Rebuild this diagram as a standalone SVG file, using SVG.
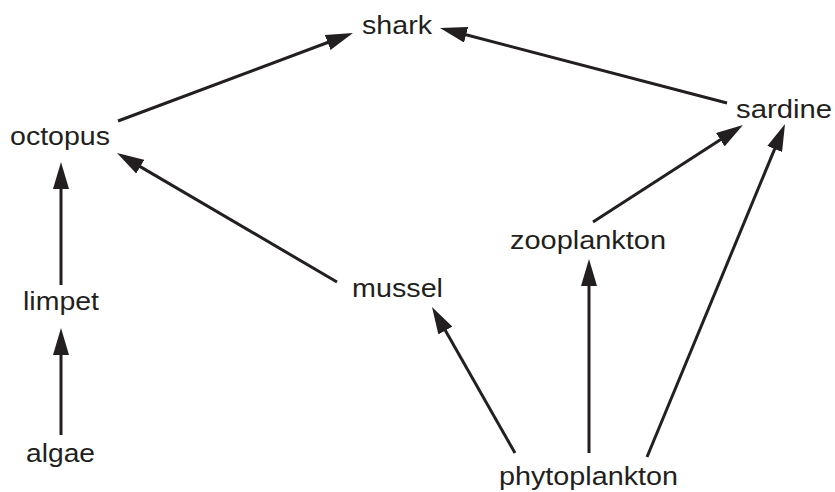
<svg xmlns="http://www.w3.org/2000/svg" width="835" height="492" viewBox="0 0 835 492">
<style>
.lbl{font-family:"Liberation Sans",Arial,Helvetica,sans-serif;font-size:26px;fill:#231f20}
.con line{stroke:#231f20;stroke-width:3;fill:none;marker-end:url(#ah)}
</style>
<defs>
<marker id="ah" viewBox="0 0 27 16" refX="12" refY="8" markerWidth="27" markerHeight="16" markerUnits="userSpaceOnUse" orient="auto">
<path d="M0,0 L27,8 L0,16 Z" fill="#231f20"/>
</marker>
</defs>
<rect width="835" height="492" fill="#fff"/>
<g id="connectors" class="con">
<line x1="61" y1="435" x2="61" y2="343"/>
<line x1="61" y1="285" x2="61" y2="177"/>
<line x1="118" y1="121" x2="338.96" y2="38.26"/>
<line x1="337" y1="282" x2="129.94" y2="160.59"/>
<line x1="727" y1="103" x2="454.51" y2="31.79"/>
<line x1="593" y1="222" x2="730.4" y2="133.15"/>
<line x1="647" y1="457" x2="779.26" y2="137.86"/>
<line x1="589" y1="453" x2="589" y2="274"/>
<line x1="515" y1="453" x2="439.41" y2="320.04"/>
</g>
<g id="shark"><text class="lbl" x="362" y="34" textLength="70" lengthAdjust="spacingAndGlyphs">shark</text></g>
<g id="octopus"><text class="lbl" x="10" y="145" textLength="100" lengthAdjust="spacingAndGlyphs">octopus</text></g>
<g id="sardine"><text class="lbl" x="736" y="118" textLength="96" lengthAdjust="spacingAndGlyphs">sardine</text></g>
<g id="zooplankton"><text class="lbl" x="510" y="249" textLength="156" lengthAdjust="spacingAndGlyphs">zooplankton</text></g>
<g id="limpet"><text class="lbl" x="23" y="310" textLength="76" lengthAdjust="spacingAndGlyphs">limpet</text></g>
<g id="mussel"><text class="lbl" x="352" y="297" textLength="91" lengthAdjust="spacingAndGlyphs">mussel</text></g>
<g id="algae"><text class="lbl" x="26" y="462" textLength="69" lengthAdjust="spacingAndGlyphs">algae</text></g>
<g id="phytoplankton"><text class="lbl" x="499" y="485" textLength="179" lengthAdjust="spacingAndGlyphs">phytoplankton</text></g>
</svg>
